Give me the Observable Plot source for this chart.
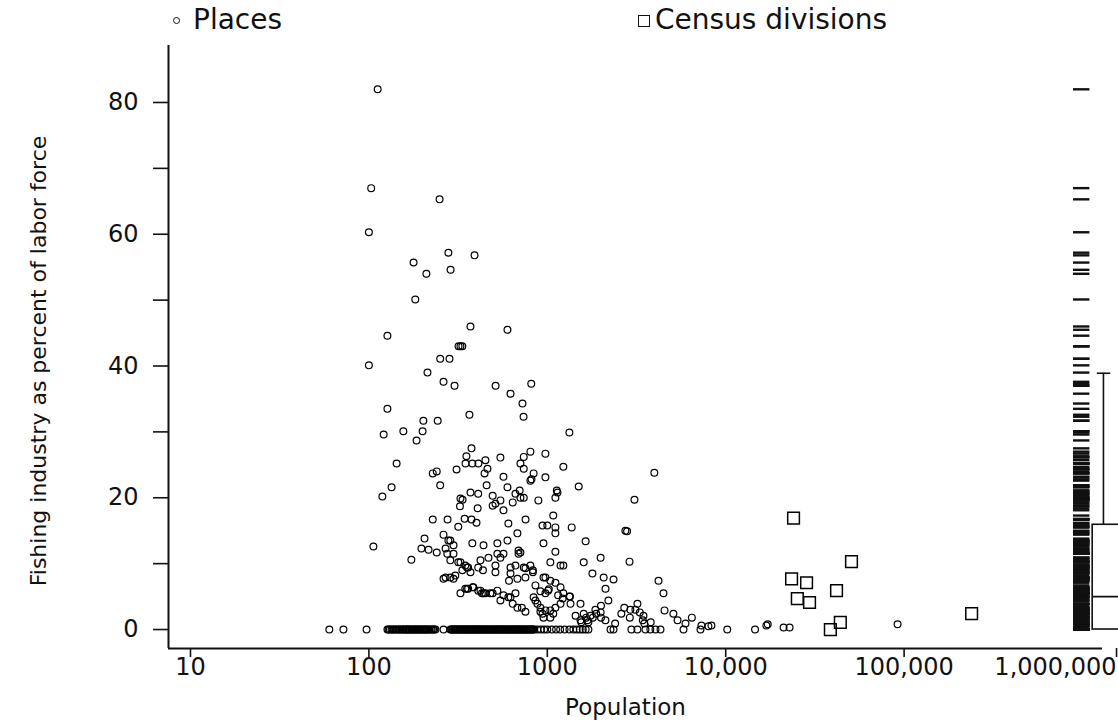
<!DOCTYPE html>
<html><head><meta charset="utf-8">
<script src="https://cdn.jsdelivr.net/npm/d3@7"></script>
<script src="https://cdn.jsdelivr.net/npm/@observablehq/plot@0.6"></script>
<style>
html,body{margin:0;padding:0;background:#fff;overflow:hidden;width:1118px;height:723px}
#legend{position:relative;height:40px;font-family:"DejaVu Sans";font-size:28px;color:#111}
#legend .item{position:absolute;top:3px;line-height:34px;white-space:nowrap}
#legend .circ{position:absolute;width:5px;height:5px;border:1.3px solid #111;border-radius:50%}
#legend .sq{position:absolute;width:10px;height:10px;border:1.4px solid #111}
#chart{width:1140px}
#chart svg{display:block;overflow:visible;max-width:none !important;width:1140px;height:683px}
</style></head><body>
<div id="legend">
  <span class="circ" style="left:173px;top:17px"></span>
  <span class="item" style="left:193px">Places</span>
  <span class="sq" style="left:638px;top:15px"></span>
  <span class="item" style="left:655px">Census divisions</span>
</div>
<div id="chart"></div>
<script>
// ---- data ----
const xTicks = [10, 100, 1000, 10000, 100000, 1000000];
const xTickLabels = ["10", "100", "1000", "10,000", "100,000", "1,000,000"];
const yTicks = [0, 20, 40, 60, 80];
const yMinorTicks = [10, 30, 50, 70];

// places with non-zero share: [population, percent]
const places = [
 [112,82.0],[103,67.0],[249,65.3],[100,60.3],[279,57.2],[391,56.8],[178,55.7],[287,54.6],[210,54.0],[182,50.1],
 [371,46.0],[598,45.5],[127,44.6],[318,43.0],[326,43.0],[334,43.0],[251,41.1],[283,41.1],[100,40.1],[213,39.0],
 [262,37.6],[302,37.0],[513,37.0],[813,37.3],[622,35.8],[726,34.3],
 [127,33.5],[366,32.6],[736,32.3],[202,31.7],[243,31.7],[156,30.1],[200,30.1],[1330,29.9],[121,29.6],[185,28.7],
 [376,27.5],[804,27.0],[976,26.7],
 [352,26.3],[546,26.1],[738,26.2],[143,25.2],[348,25.2],[380,25.2],[411,25.2],[450,25.7],[707,25.2],[1230,24.7],
 [310,24.3],[462,24.4],[738,24.4],[240,24.0],[3980,23.8],[228,23.7],[445,23.7],[838,23.7],[568,23.2],[976,23.1],
 [815,22.8],[804,22.6],[251,21.9],[457,21.9],[1500,21.7],[134,21.6],[598,21.6],[700,21.1],[1130,21.1],[371,20.8],
 [1140,20.8],[410,20.6],[663,20.6],[494,20.3],[119,20.2],[707,20.0],[738,20.0],[1110,20.0],[326,19.9],
 [335,19.7],[3080,19.7],[546,19.6],[891,19.6],[640,19.3],[512,19.1],[494,18.8],[324,18.7],[407,18.4],[568,18.1],
 [1080,17.3],[344,16.8],[228,16.7],[276,16.7],[376,16.7],[755,16.7],[401,16.2],[605,16.1],[940,15.8],[1000,15.8],
 [317,15.6],[1110,15.5],[1370,15.5],[2740,15.0],[2800,14.9],
 [1110,14.6],[680,14.6],[262,14.4],[205,13.8],[279,13.5],[286,13.5],[598,13.5],[1640,13.4],[380,13.1],[525,13.1],
 [952,13.1],[439,12.8],[298,12.8],[106,12.6],[197,12.3],[269,12.3],[216,12.1],[690,12.0],[1110,11.8],[240,11.7],
 [707,11.7],[275,11.5],[298,11.5],[525,11.5],[568,11.5],[690,11.5],[546,10.9],[468,10.9],[1990,10.9],[173,10.6],
 [286,10.5],[422,10.5],[2890,10.3],[317,10.2],[326,10.2],[1040,10.2],[1600,10.2],
 [347,9.7],[512,9.7],[663,9.7],[804,9.7],[1186,9.7],[1230,9.7],[355,9.4],[360,9.4],[410,9.4],[622,9.4],
 [738,9.4],[754,9.3],[334,9.0],[436,9.0],[830,9.0],[371,8.7],[512,8.7],[830,8.7],[622,8.5],[1790,8.5],
 [305,8.2],[269,7.9],[286,7.9],[754,7.9],[952,7.9],[976,7.9],[2070,7.9],[262,7.7],[298,7.7],[680,7.7],
 [2350,7.6],[610,7.4],[1040,7.4],[4200,7.4],[1110,7.1],[858,6.7],[385,6.4],[382,6.4],[1186,6.4],[347,6.2],
 [355,6.2],[360,6.2],[2120,6.2],[1020,6.1],[410,5.9],[422,5.9],[525,5.9],[1010,5.9],[915,5.8],[326,5.5],
 [430,5.5],[439,5.5],[450,5.5],[480,5.5],[494,5.5],[663,5.5],[976,5.5],[1230,5.5],[4480,5.5],[568,5.2],
 [1150,5.2],[1330,5.0],[1340,5.0],
 [605,4.9],[622,4.9],[838,4.9],[1220,4.7],[2200,4.4],[546,4.4],[858,4.4],[640,3.9],[880,3.9],[1349,3.9],
 [1535,3.9],[3200,3.9],[1186,3.9],[2000,3.6],[680,3.3],[720,3.3],[915,3.3],[1110,3.3],[2700,3.3],[1860,3.0],
 [2920,3.0],[3118,3.0],[976,2.9],[1040,2.9],[4540,2.9],[754,2.7],[915,2.7],[1990,2.6],[3300,2.6],[940,2.4],
 [1080,2.4],[1600,2.4],[1880,2.4],[2600,2.4],[5090,2.4],[1746,2.1],[1440,2.1],[3460,2.1],[952,1.8],[1040,1.8],
 [1650,1.8],[1800,1.8],[2000,1.8],[2900,1.8],[6460,1.8],[1680,1.4],[1535,1.4],[2118,1.4],[3430,1.4],[5370,1.4],
 [1550,1.1],[1700,1.1],[3800,1.1],[5950,0.9],[2400,0.9],[3500,0.9],[91900,0.8],[17200,0.8],[7310,0.6],[8320,0.6],
 [16900,0.6],[8000,0.5],[21100,0.3],[22800,0.3]
];

// places with zero share: population only
const placesZero = [
 60,72,97,
 127,129,131,134,136,138,141,143,146,148,150,153,155,157,160,162,164,166,168,170,173,175,178,180,183,185,
 188,190,193,195,198,201,204,206,209,212,215,218,222,225,229,232,236,
 262,286,290,293,296,300,303,307,311,315,318,322,326,330,334,338,342,346,350,354,358,363,367,372,376,381,
 385,390,395,400,404,409,414,419,424,430,435,440,445,451,456,462,467,473,479,485,491,497,503,509,515,
 521,527,534,540,547,553,560,567,574,581,588,595,602,609,617,624,632,639,647,655,663,671,679,687,696,
 704,713,721,730,739,748,757,766,775,785,794,804,814,824,834,845,
 880,920,960,1000,1060,1120,1180,1250,1330,1400,1460,1520,1580,1640,1700,2260,2350,
 2960,3200,3550,3780,4040,4310,5800,7220,10200,14600
];

// census divisions: [population, percent]
const censusDivisions = [
 [24000,16.9],[50700,10.3],[23400,7.7],[28400,7.1],[41800,5.9],[25200,4.7],[29500,4.1],[43900,1.1],[38600,0.0],[239000,2.4]
];

// box plot summary of the place shares
const boxQuartiles = [0, 5.0, 15.9];   // lower quartile, median, upper quartile
const boxWhiskerHigh = 38.9;

// ---- layout (not data) ----
const xDomain = [7.53, 1.294e6];
const yDomain = [-2.88, 88.65];
const rugX = [8.9e5, 1.1e6];
const boxX = [1.14e6, 4e6];
const whiskerX = 1.31e6;
const capX = [1.21e6, 1.44e6];

const placeData = places.map(([pop, pct]) => ({pop, pct}))
  .concat(placesZero.map(pop => ({pop, pct: 0})));
const censusData = censusDivisions.map(([pop, pct]) => ({pop, pct}));
const rugValues = placeData.map(d => d.pct);

const ink = "#111";
const lastTick = xTicks[xTicks.length - 1];
const chart = Plot.plot({
  width: 1140, height: 683,
  marginLeft: 168, marginRight: 38, marginTop: 5, marginBottom: 75,
  style: {fontFamily: "DejaVu Sans", fontSize: "24px", color: ink, background: "#fff", overflow: "visible", maxWidth: "none"},
  x: {type: "log", domain: xDomain},
  y: {domain: yDomain},
  marks: [
    Plot.axisX({ticks: xTicks.slice(0, -1), tickFormat: d => xTickLabels[xTicks.indexOf(d)], tickSize: 9, tickPadding: 0,
      fontSize: 24, label: null, stroke: ink, strokeWidth: 1.6}),
    Plot.axisX({ticks: [lastTick], tickFormat: d => xTickLabels[xTicks.indexOf(d)], tickSize: 9, tickPadding: 0,
      fontSize: 24, label: null, stroke: ink, strokeWidth: 1.6, textAnchor: "end", dx: 34}),
    Plot.axisY({ticks: yTicks, tickSize: 15, tickPadding: 15, fontSize: 24, label: null, stroke: ink, strokeWidth: 1.6}),
    Plot.axisY({ticks: yMinorTicks, tickSize: 15, tickFormat: () => "", label: null, stroke: ink, strokeWidth: 1.6}),
    Plot.ruleX([xDomain[0]], {stroke: ink, strokeWidth: 2}),
    Plot.ruleY([yDomain[0]], {x1: xDomain[0], x2: xDomain[1], stroke: ink, strokeWidth: 2}),
    Plot.text(["Fishing industry as percent of labor force"], {frameAnchor: "left", textAnchor: "middle", dx: -130, dy: 14, rotate: -90,
      fontSize: 22, fill: ink}),
    Plot.text(["Population"], {frameAnchor: "bottom", textAnchor: "middle", dx: -10, dy: 66, fontSize: 23, fill: ink}),
    // rug of all place shares
    Plot.ruleY(rugValues, {y: d => d, x1: rugX[0], x2: rugX[1], stroke: ink, strokeWidth: 2.4}),
    // box plot
    Plot.rect([boxQuartiles], {x1: boxX[0], x2: boxX[1], y1: d => d[0], y2: d => d[2], fill: "none", stroke: ink, strokeWidth: 1.6}),
    Plot.ruleY([boxQuartiles[1]], {x1: boxX[0], x2: boxX[1], stroke: ink, strokeWidth: 1.6}),
    Plot.ruleX([whiskerX], {y1: boxQuartiles[2], y2: boxWhiskerHigh, stroke: ink, strokeWidth: 1.6}),
    Plot.ruleY([boxWhiskerHigh], {x1: capX[0], x2: capX[1], stroke: ink, strokeWidth: 1.6}),
    // markers
    Plot.dot(placeData, {x: "pop", y: "pct", r: 3.4, stroke: "#000", strokeWidth: 1.2, fill: "none"}),
    Plot.dot(censusData, {x: "pop", y: "pct", symbol: "square", r: 6.6, stroke: "#000", strokeWidth: 1.5, fill: "none"})
  ]
});
document.getElementById("chart").appendChild(chart);
</script>
</body></html>
